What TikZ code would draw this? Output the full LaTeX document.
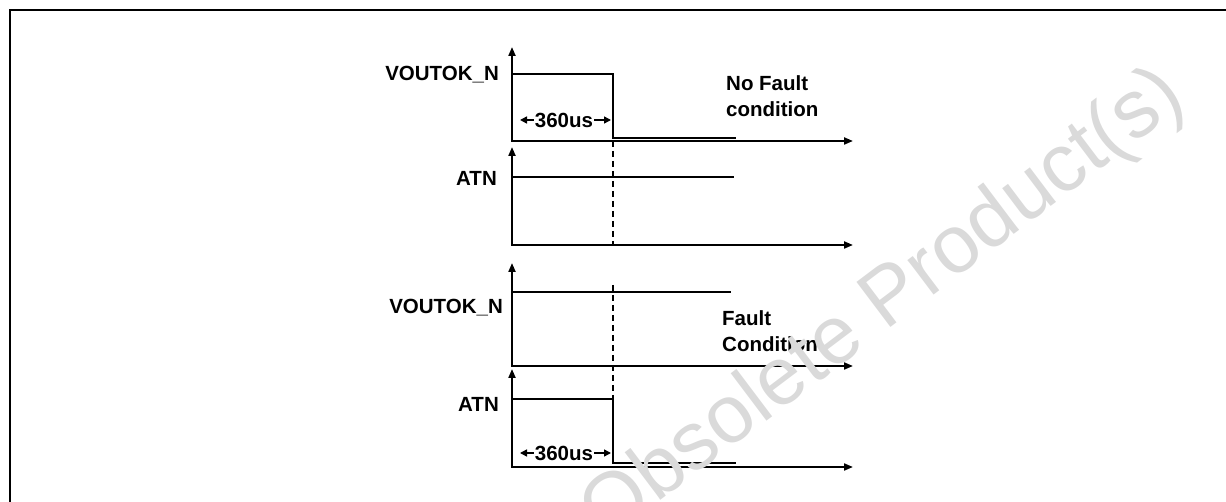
\documentclass[tikz,border=0pt]{standalone}
\usepackage{fontspec}
\setmainfont{Liberation Sans}
\usetikzlibrary{arrows.meta}
\definecolor{wmgray}{RGB}{218,218,218}
\tikzset{
  ax/.style={line width=2pt, {Triangle[length=9pt,width=7pt]}-{Triangle[length=9pt,width=7pt]}},
  sig/.style={line width=1.5pt},
  guide/.style={line width=1.3pt, dash pattern=on 6pt off 4pt},
  lbl/.style={font=\fontsize{20.5}{26}\selectfont\bfseries, inner sep=0pt},
  span/.style={line width=1.5pt, -{Triangle[length=7pt,width=7pt]}},
  wm/.style={font=\fontsize{82}{82}\selectfont, text=wmgray, inner sep=0pt},
  frame/.style={line width=2.5pt}
}

\begin{document}
\begin{tikzpicture}[x=1pt, y=-1pt]
\useasboundingbox (0,0) rectangle (1226,502);
% outer frame, cut by the page
\coordinate (fTR) at (1226,10);
\coordinate (fTL) at (10,10);
\coordinate (fBL) at (10,502);
\draw[frame] (fTR) -- (fTL) -- (fBL);

% four time axes
\foreach \n/\y/\t in {1/141/47, 2/245/147, 3/366/263, 4/467/369} {
  \coordinate (o\n) at (512,\y);
  \coordinate (t\n) at (512,\t);
  \coordinate (e\n) at (853,\y);
  \draw[ax] (t\n) -- (o\n) -- (e\n);
}

% no fault: VOUTOK_N falls, ATN stays high
\coordinate (v1a) at (512,74);
\coordinate (v1b) at (613,74);
\coordinate (v1c) at (613,138);
\coordinate (v1d) at (736,138);
\draw[sig] (v1a) -- (v1b) -- (v1c) -- (v1d);
\coordinate (a2a) at (512,177);
\coordinate (a2b) at (734,177);
\draw[sig] (a2a) -- (a2b);
\draw[guide] (v1c |- o1) -- (v1c |- o2);

% fault: VOUTOK_N stays high, ATN falls
\coordinate (v3a) at (512,292);
\coordinate (v3b) at (731,292);
\draw[sig] (v3a) -- (v3b);
\coordinate (a4a) at (512,399);
\coordinate (a4b) at (613,399);
\coordinate (a4c) at (613,463);
\coordinate (a4d) at (736,463);
\draw[sig] (a4a) -- (a4b) -- (a4c) -- (a4d);
\coordinate (g3) at (613,285);
\draw[guide] (g3) -- (a4b);

% signal names
\node[lbl, anchor=east] (lv1) at (499,75) {VOUTOK\_N};
\node[lbl, anchor=east] (la2) at (497,178) {ATN};
\node[lbl, anchor=east] (lv3) at (503,308) {VOUTOK\_N};
\node[lbl, anchor=east] (la4) at (499,404) {ATN};

% conditions
\node[lbl, anchor=west, align=left] (nofault) at (726,96) {No Fault\\condition};
\node[lbl, anchor=west, align=left] (fault) at (722,331) {Fault\\Condition};

% 360us spans
\node[lbl, inner sep=1pt] (w1) at (564,120) {360us};
\coordinate (w1l) at (520,120);
\coordinate (w1r) at (611,120);
\draw[span] (w1.west) -- (w1l);
\draw[span] (w1.east) -- (w1r);
\node[lbl, inner sep=1pt] (w4) at (564,453) {360us};
\coordinate (w4l) at (520,453);
\coordinate (w4r) at (611,453);
\draw[span] (w4.west) -- (w4l);
\draw[span] (w4.east) -- (w4r);

% watermark
\node[wm, rotate=37] (wmark) at (884,306) {Obsolete Product(s)};
\end{tikzpicture}
\end{document}
